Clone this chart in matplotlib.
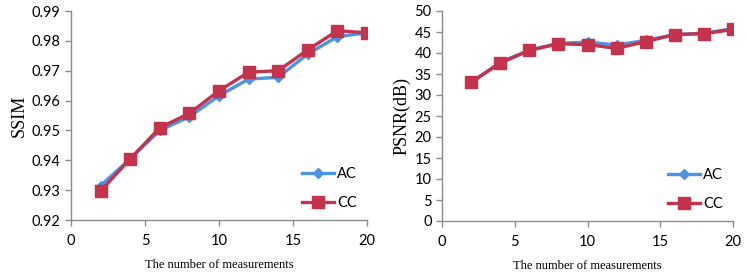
import matplotlib
matplotlib.use("Agg")
import matplotlib.pyplot as plt

x = [2, 4, 6, 8, 10, 12, 14, 16, 18, 20]
ssim_ac = [0.9315, 0.9405, 0.9500, 0.9546, 0.9616, 0.9672, 0.9678, 0.9756, 0.9814, 0.9827]
ssim_cc = [0.9297, 0.9405, 0.9509, 0.9557, 0.9633, 0.9695, 0.9700, 0.9770, 0.9834, 0.9827]
psnr_ac = [33.0, 37.8, 40.7, 42.3, 42.6, 41.9, 43.0, 44.4, 44.7, 45.8]
psnr_cc = [33.0, 37.6, 40.6, 42.2, 42.0, 41.1, 42.7, 44.4, 44.6, 45.6]
xticks = [0, 5, 10, 15, 20]
ssim_ticks = [0.92, 0.93, 0.94, 0.95, 0.96, 0.97, 0.98, 0.99]
psnr_ticks = list(range(0, 51, 5))

BLUE = "#4C93E6"
RED = "#C4324B"
GRAY = "#8C8C8C"

W, H = 748, 279
fig = plt.figure(figsize=(W / 100, H / 100), dpi=100)

def ax_rect(l, r, t, b):
    return [l / W, 1 - b / H, (r - l) / W, (b - t) / H]

ax1 = fig.add_axes(ax_rect(71, 367, 11, 220))
ax2 = fig.add_axes(ax_rect(442, 733, 11, 221))

tick_font = dict(family=["Lato", "DejaVu Sans"], size=10.5)
lab_font = dict(family="Liberation Serif")

def style(ax, xs, ac, cc, yt, ylim, yfmt, ylabel):
    ax.plot(xs, ac, color=BLUE, lw=2.4, marker="D", ms=5.5, label="AC", zorder=3)
    ax.plot(xs, cc, color=RED, lw=2.4, marker="s", ms=9, label="CC", zorder=4)
    ax.set_xlim(0, 20)
    ax.set_ylim(*ylim)
    ax.set_xticks(xticks)
    ax.set_yticks(yt)
    ax.set_yticklabels([yfmt(v) for v in yt], **tick_font)
    ax.set_xticklabels([str(v) for v in xticks], **tick_font)
    for s in ["top", "right"]:
        ax.spines[s].set_visible(False)
    for s in ["left", "bottom"]:
        ax.spines[s].set_color(GRAY)
        ax.spines[s].set_linewidth(1.0)
    ax.tick_params(colors=GRAY, labelcolor="black", length=4, width=1.0)
    ax.tick_params(axis="x", pad=6)
    ax.set_xlabel("The number of measurements", fontsize=9, labelpad=8, **lab_font)
    ax.set_ylabel(ylabel, fontsize=13, labelpad=3, **lab_font)
    ax.patch.set_alpha(0)
    ax.legend(loc="lower right", frameon=False, handlelength=2.2,
              labelspacing=1.0, handletextpad=0.2, borderaxespad=0.3,
              bbox_to_anchor=(1.0, 0.0),
              prop={"family": "Lato", "size": 10.5})

style(ax1, x, ssim_ac, ssim_cc, ssim_ticks, (0.92, 0.99), lambda v: f"{v:.2f}", "SSIM")
style(ax2, x, psnr_ac, psnr_cc, psnr_ticks, (0, 50), lambda v: f"{v:d}", "PSNR(dB)")

fig.savefig("out.png", dpi=100)
